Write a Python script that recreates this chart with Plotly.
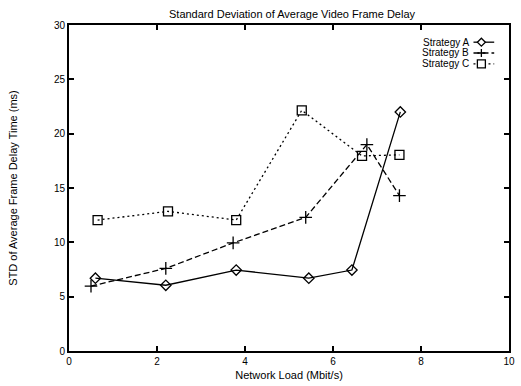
import plotly.graph_objects as go

# ---- data ----
load_a = [0.6, 2.2, 3.8, 5.45, 6.43, 7.53]
std_a = [6.7, 6.05, 7.45, 6.7, 7.45, 22.0]

load_b = [0.5, 2.2, 3.73, 5.38, 6.77, 7.51]
std_b = [5.97, 7.6, 9.95, 12.3, 19.0, 14.3]

load_c = [0.65, 2.25, 3.8, 5.29, 6.66, 7.51]
std_c = [12.05, 12.85, 12.05, 22.15, 17.95, 18.05]

series_names = ["Strategy A", "Strategy B", "Strategy C"]
x_ticks = [0, 2, 4, 6, 8, 10]
y_ticks = [0, 5, 10, 15, 20, 25, 30]

FONT = "Liberation Sans, Arial, Helvetica, sans-serif"
styles = [
    dict(dash="solid", symbol="diamond-open", size=8),
    dict(dash="6px,3px", symbol="cross-thin-open", size=9),
    dict(dash="2px,3px", symbol="square-open", size=9),
]

fig = go.Figure()
for (xs, ys), name, st in zip([(load_a, std_a), (load_b, std_b), (load_c, std_c)], series_names, styles):
    fig.add_trace(go.Scatter(
        x=xs, y=ys, name=name, mode="lines+markers",
        line=dict(color="black", width=1.3, dash=st["dash"]),
        marker=dict(symbol=st["symbol"], size=st["size"], color="black",
                    line=dict(color="black", width=1.3)),
        showlegend=False,
    ))

# ---- custom gnuplot-style key (text left, sample right) ----
L, R, T, B = 69, 6, 25, 29
W, H = 521, 386
pw, ph = W - L - R, H - T - B
def px_x(p):
    return (p - L) / pw
def px_y(p):
    return (H - B - p) / ph

row_y = [42.5, 53.5, 64.5]
shapes = []
annotations = []
marker_paths = [
    "M -4,0 L 0,4 L 4,0 L 0,-4 Z",
    "M -4,0 L 4,0 M 0,-4 L 0,4",
    "M -4,-4 L 4,-4 L 4,4 L -4,4 Z",
]
for i, name in enumerate(series_names):
    yy = px_y(row_y[i])
    annotations.append(dict(
        x=px_x(475), y=yy, xref="paper", yref="paper", text=name,
        showarrow=False, xanchor="right", yanchor="middle",
        borderpad=0,
        font=dict(family=FONT, size=10, color="black"),
    ))
    shapes.append(dict(
        type="line", xref="paper", yref="paper",
        x0=px_x(479), x1=px_x(500), y0=yy, y1=yy,
        line=dict(color="black", width=1.3, dash=styles[i]["dash"]),
    ))
    shapes.append(dict(
        type="path", xref="paper", yref="paper",
        xsizemode="pixel", ysizemode="pixel",
        xanchor=px_x(487), yanchor=yy,
        path=marker_paths[i],
        line=dict(color="black", width=1.3),
        fillcolor="white",
    ))

axis_common = dict(
    showline=True, linecolor="black", linewidth=2, mirror="ticks",
    ticks="inside", ticklen=5, tickwidth=1.5, tickcolor="black",
    showgrid=False, zeroline=False,
    tickfont=dict(family=FONT, size=10, color="black"),
)

fig.update_layout(
    width=W, height=H,
    margin=dict(l=L, r=R, t=T, b=B, pad=0),
    paper_bgcolor="white", plot_bgcolor="white",
    title=dict(text="Standard Deviation of Average Video Frame Delay",
               x=(292) / W, xanchor="center", y=1 - 14 / H, yanchor="middle",
               font=dict(family=FONT, size=11, color="black")),
    xaxis=dict(range=[0, 10], tickvals=x_ticks,
               title=dict(text="Network Load (Mbit/s)", standoff=5,
                          font=dict(family=FONT, size=11, color="black")),
               **axis_common),
    yaxis=dict(range=[0, 30], tickvals=y_ticks,
               title=dict(text="STD of Average Frame Delay Time (ms)", standoff=34,
                          font=dict(family=FONT, size=11, color="black")),
               **axis_common),
    shapes=shapes,
    annotations=annotations,
    showlegend=False,
)

fig.write_html("out.html")
